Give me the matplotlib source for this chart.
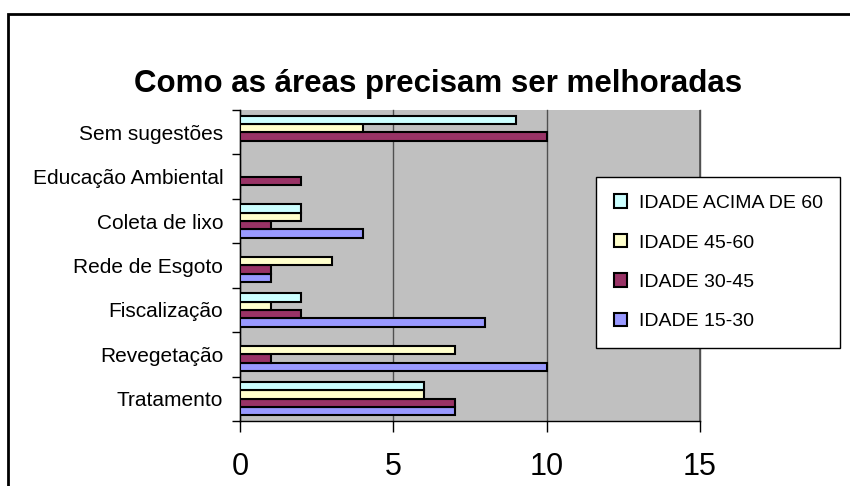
import numpy as np
import matplotlib.pyplot as plt
from matplotlib.patches import Rectangle

plt.rcParams['font.family'] = ['Liberation Sans', 'DejaVu Sans']

# Data
categorias = ["Tratamento", "Revegetação", "Fiscalização", "Rede de Esgoto",
              "Coleta de lixo", "Educação Ambiental", "Sem sugestões"]
idade_15_30 = [7, 10, 8, 1, 4, 0, 0]
idade_30_45 = [7, 1, 2, 1, 1, 2, 10]
idade_45_60 = [6, 7, 1, 3, 2, 0, 4]
idade_60_mais = [6, 0, 2, 0, 2, 0, 9]
series_nomes = ["IDADE 15-30", "IDADE 30-45", "IDADE 45-60", "IDADE ACIMA DE 60"]
cores = ["#9999FF", "#993366", "#FFFFCC", "#CCFFFF"]

fig = plt.figure(figsize=(8.5, 4.86), dpi=100)
ax = fig.add_axes([240/850, 1-421/486, 460/850, 311/486])
ax.set_facecolor("#C0C0C0")

y = np.arange(len(categorias))
h = 0.1875
valores = [idade_15_30, idade_30_45, idade_45_60, idade_60_mais]
barras = []
for i, (vals, nome, cor) in enumerate(zip(valores, series_nomes, cores)):
    b = ax.barh(y + (i - 1.5) * h, vals, height=h, color=cor,
                edgecolor="black", linewidth=1.5, label=nome, zorder=3)
    barras.append(b)

ax.set_xlim(0, 15)
ax.set_ylim(-0.5, len(categorias) - 0.5)
ax.set_xticks([0, 5, 10, 15])
ax.set_yticks(np.arange(-0.5, len(categorias), 1), minor=False)
ax.set_yticklabels([])
ax.set_yticks(y, minor=True)
ax.set_yticklabels(categorias, minor=True, fontsize=15)
ax.tick_params(axis="y", which="minor", length=0, pad=12)
ax.tick_params(axis="y", which="major", length=6, width=1, direction="out")
ax.tick_params(axis="x", length=8, width=1, direction="out", pad=14, labelsize=22)
ax.xaxis.grid(True, color="#505050", linewidth=1, zorder=1, clip_on=False)
ax.axvline(15, color="#505050", linewidth=1.2, zorder=2)

for s in ["top", "right"]:
    ax.spines[s].set_visible(False)
ax.spines["left"].set_linewidth(1)
ax.spines["bottom"].set_linewidth(1)

fig.text(438/850, 1-84/486, "Como as áreas precisam ser melhoradas",
         ha="center", va="center", fontsize=22.5, fontweight="bold")

handles = barras[::-1]
leg = fig.legend(handles, series_nomes[::-1], loc="upper left",
                 bbox_to_anchor=(596/850, 1-177/486), fontsize=14,
                 frameon=True, fancybox=False, handlelength=0.7, handleheight=0.7,
                 labelspacing=1.12, borderpad=0.9, handletextpad=0.6,
                 borderaxespad=0)
leg.get_frame().set_edgecolor("black")
leg.get_frame().set_linewidth(1)
leg.get_frame().set_facecolor("white")
leg.get_frame().set_alpha(1)

# outer chart border
fig.patches.append(Rectangle((8/850, -0.1), 1.2, 1 - 14/486 + 0.1,
                             transform=fig.transFigure, fill=False,
                             edgecolor="black", linewidth=2))

fig.savefig("out.png", dpi=100)
